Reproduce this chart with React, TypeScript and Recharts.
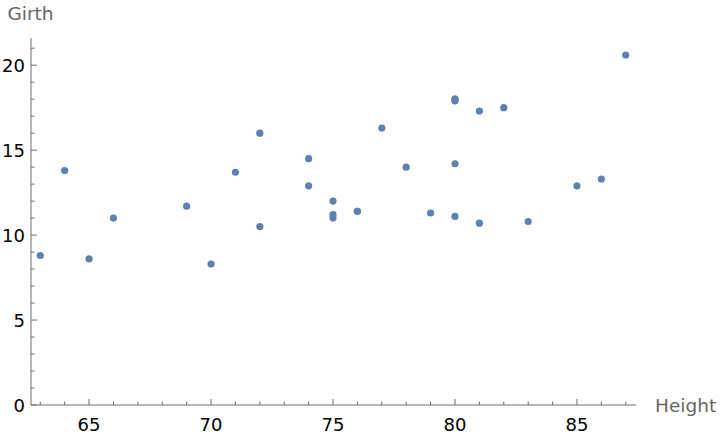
import React from 'react';
import { ScatterChart, Scatter, XAxis, YAxis, Label } from 'recharts';

// trees dataset: height vs girth
const heights = [70, 65, 63, 72, 81, 83, 66, 75, 80, 75, 79, 76, 76, 69, 75, 74, 85, 86, 71, 64, 78, 80, 74, 72, 77, 81, 82, 80, 80, 80, 87];
const girths = [8.3, 8.6, 8.8, 10.5, 10.7, 10.8, 11.0, 11.0, 11.1, 11.2, 11.3, 11.4, 11.4, 11.7, 12.0, 12.9, 12.9, 13.3, 13.7, 13.8, 14.0, 14.2, 14.5, 16.0, 16.3, 17.3, 17.5, 17.9, 18.0, 18.0, 20.6];

const xTicks = [63, 64, 65, 66, 67, 68, 69, 70, 71, 72, 73, 74, 75, 76, 77, 78, 79, 80, 81, 82, 83, 84, 85, 86, 87];
const yTicks = [0, 1, 2, 3, 4, 5, 6, 7, 8, 9, 10, 11, 12, 13, 14, 15, 16, 17, 18, 19, 20, 21];

const data = heights.map((h, i) => ({ height: h, girth: girths[i] }));

const AXIS = '#6e6e6e';
const DOT = '#5e81b5';
const FONT = 'DejaVu Sans, sans-serif';

const XTick = (props: any) => {
  const { x, y, payload } = props;
  const major = payload.value % 5 === 0;
  return (
    <g>
      <line x1={x} x2={x} y1={y} y2={y - (major ? 6 : 3.5)} stroke={AXIS} strokeWidth={1} />
      {major && (
        <text x={x} y={y + 26} textAnchor="middle" fontSize={18} fontFamily={FONT} fill="#000">
          {payload.value}
        </text>
      )}
    </g>
  );
};

const YTick = (props: any) => {
  const { x, y, payload } = props;
  const major = payload.value % 5 === 0;
  return (
    <g>
      <line x1={x} x2={x + (major ? 6 : 3.5)} y1={y} y2={y} stroke={AXIS} strokeWidth={1} />
      {major && (
        <text x={x - 6} y={y + 6.5} textAnchor="end" fontSize={18} fontFamily={FONT} fill="#000">
          {payload.value}
        </text>
      )}
    </g>
  );
};

export default function App() {
  return (
    <div style={{ position: 'absolute', left: 0, top: 0, width: 720, height: 436, background: '#fff' }}>
      <ScatterChart width={720} height={436} margin={{ top: 38, right: 84, bottom: 30, left: 30 }}>
        <XAxis
          dataKey="height"
          type="number"
          domain={[62.62, 87.42]}
          allowDataOverflow
          ticks={xTicks}
          interval={0}
          height={1}
          tickSize={0}
          tickMargin={0}
          tickLine={false}
          tick={<XTick />}
          stroke={AXIS}
        >
          <Label value="Height" position="right" offset={19} fontSize={18.5} fontFamily={FONT} fill="#666" />
        </XAxis>
        <YAxis
          dataKey="girth"
          type="number"
          domain={[0, 21.6]}
          allowDataOverflow
          ticks={yTicks}
          interval={0}
          width={1}
          tickSize={0}
          tickMargin={0}
          tickLine={false}
          tick={<YTick />}
          stroke={AXIS}
        >
          <Label value="Girth" position="top" offset={18.5} fontSize={18.5} fontFamily={FONT} fill="#666" />
        </YAxis>
        <Scatter
          data={data}
          isAnimationActive={false}
          shape={(p: any) => <circle cx={p.cx} cy={p.cy} r={3.6} fill={DOT} />}
        />
      </ScatterChart>
    </div>
  );
}
